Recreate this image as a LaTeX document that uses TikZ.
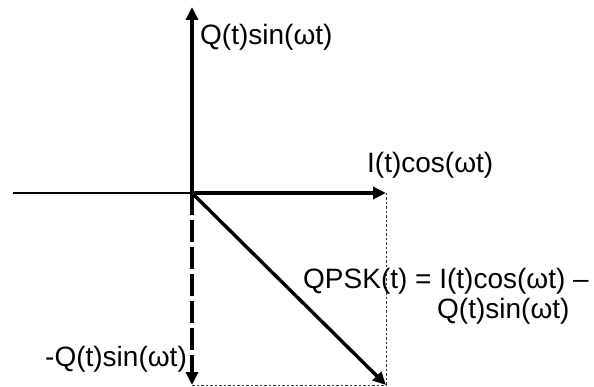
\documentclass[tikz,border=0pt]{standalone}
\usepackage{fontspec}
\setmainfont{Liberation Sans}
\usetikzlibrary{arrows.meta}
\begin{document}
\begin{tikzpicture}[x=1pt,y=-1pt,
  vec/.style={line width=3.4pt,-{Triangle[length=13pt,width=12pt]}},
  guide/.style={line width=0.9pt,dash pattern=on 2.5pt off 2pt,black!80},
  lbl/.style={inner sep=0pt,anchor=base west,font=\fontsize{28}{32}\selectfont}]
\useasboundingbox (0,0) rectangle (594,387);
\coordinate (O) at (192,193);
\coordinate (L) at (13,193);
\coordinate (Qt) at (192,7);
\coordinate (It) at (386,193);
\coordinate (Qb) at (192,385);
\coordinate (P) at (386,385);
\draw[line width=1.2pt] (L) -- (O);
\draw[guide] (It) -- (P);
\draw[guide] (Qb) -- (P);
\draw[vec] (O) -- (Qt);
\draw[vec] (O) -- (It);
\draw[vec,dash pattern=on 22pt off 5pt] (O) -- (Qb);
\draw[vec] (O) -- (P);
\node[lbl] (lq) at (200,45) {Q(t)sin(ωt)};
\node[lbl] (li) at (367,173) {I(t)cos(ωt)};
\node[lbl] (lp1) at (303,288) {QPSK(t) = I(t)cos(ωt) –};
\node[lbl] (lp2) at (437,318) {Q(t)sin(ωt)};
\node[lbl] (lmq) at (45,366) {-Q(t)sin(ωt)};
\end{tikzpicture}
\end{document}
